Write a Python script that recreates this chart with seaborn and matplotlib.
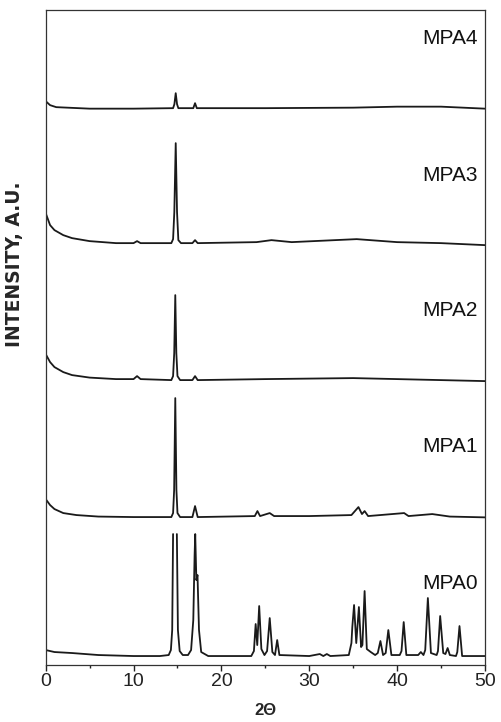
import numpy as np
import pandas as pd
import matplotlib
matplotlib.use('Agg')
import matplotlib.pyplot as plt
from matplotlib.ticker import MultipleLocator
import seaborn as sns

# XRD patterns: (2theta, intensity above own zero, a.u.)
# None marks where the strong MPA0 peak runs off the top of its band
samples = ['MPA0', 'MPA1', 'MPA2', 'MPA3', 'MPA4']

mpa0 = [(0, 15), (1, 13), (3, 12), (6, 10), (10, 9), (13, 9), (14.0, 10), (14.25, 15), (14.4, 35), (14.5, 131),
        (None, None),
        (14.93, 131), (15.05, 35), (15.25, 14), (15.6, 10), (16.2, 10), (16.55, 15), (16.8, 45), (16.95, 110),
        (17.02, 131), (17.15, 85), (17.28, 90), (17.45, 35), (17.7, 13), (18.5, 9), (23.4, 9), (23.7, 14),
        (23.9, 41), (24.08, 20), (24.3, 59), (24.55, 16), (24.9, 10), (25.2, 14), (25.5, 47), (25.8, 13),
        (26.1, 10), (26.35, 25), (26.6, 10), (30, 9), (31.2, 11), (31.6, 9), (32.0, 11), (32.4, 9), (34.5, 10),
        (34.8, 22), (34.9, 38), (35.1, 60), (35.35, 22), (35.65, 58), (35.9, 18), (36.05, 20), (36.3, 74),
        (36.55, 16), (37.0, 13), (37.5, 10), (37.8, 12), (38.1, 24), (38.4, 10), (38.7, 12), (39.0, 35),
        (39.35, 10), (40.3, 10), (40.5, 14), (40.75, 43), (41.05, 10), (42.4, 10), (42.7, 13), (43.0, 10),
        (43.2, 15), (43.5, 67), (43.85, 12), (44.5, 10), (44.65, 14), (44.9, 49), (45.25, 12), (45.5, 11),
        (45.75, 17), (46.0, 10), (46.7, 9), (46.85, 13), (47.1, 39), (47.4, 9), (50, 9)]

mpa1 = [(0, 26), (0.5, 20), (1, 16), (2, 12), (3.5, 10), (6, 8.5), (10, 8), (14.3, 8), (14.5, 12), (14.62, 35),
        (14.75, 127), (14.88, 35), (15.0, 12), (15.3, 8), (16.7, 8), (17.0, 19), (17.3, 8), (23.8, 9), (24.1, 14),
        (24.4, 9), (25.5, 12), (26, 9), (30, 9), (34.8, 10), (35.6, 18), (36.0, 11), (36.3, 14), (36.7, 9),
        (40.8, 12), (41.3, 9), (44, 11), (46, 8.5), (50, 7.7)]

mpa2 = [(0, 34), (0.5, 26), (1, 21), (2, 16), (3, 13), (5, 10.5), (8, 9), (10.0, 9), (10.4, 12), (10.8, 9),
        (14.3, 8), (14.5, 12), (14.63, 35), (14.75, 93), (14.87, 35), (15.0, 12), (15.3, 8), (16.7, 8),
        (17.0, 12), (17.3, 8), (25, 9), (35, 10), (40, 9), (50, 7)]

mpa3 = [(0, 39), (0.5, 27), (1, 22), (2, 17), (3, 14), (5, 11), (8, 9), (10, 9), (10.4, 11), (10.8, 9),
        (14.3, 9), (14.5, 13), (14.64, 40), (14.8, 109), (14.95, 40), (15.1, 12), (15.4, 9), (16.7, 9),
        (17.0, 12), (17.3, 9), (24, 10), (25.7, 12), (28, 10), (35.4, 13), (40, 10), (45, 9), (50, 7)]

mpa4 = [(0, 15), (0.5, 11), (1.2, 9), (5, 7.5), (10, 7.5), (14.5, 8), (14.65, 12), (14.8, 23), (14.95, 12),
        (15.1, 8), (16.8, 8), (17.0, 13), (17.2, 8), (25, 8), (35, 8.5), (40, 9.5), (45, 9.5), (50, 7.5)]

patterns = [mpa0, mpa1, mpa2, mpa3, mpa4]

# stacking offsets and label heights (layout)
offsets = [0, 140, 277, 413, 549]
label_y = [82, 219, 355, 490, 627]

rows = []
for name, pat, off in zip(samples, patterns, offsets):
    seg = 0
    for tt, inten in pat:
        if tt is None:
            seg += 1
            continue
        rows.append({'two_theta': tt, 'intensity': inten + off, 'sample': name, 'seg': f'{name}_{seg}'})
df = pd.DataFrame(rows)

sns.set_style('ticks')
plt.rcParams['font.family'] = ['Liberation Sans', 'DejaVu Sans']

fig = plt.figure(figsize=(5.01, 7.22), dpi=100)
ax = fig.add_axes([0.0912, 0.0789, 0.8768, 0.907])

sns.lineplot(data=df, x='two_theta', y='intensity', units='seg', estimator=None, sort=False,
             color='#1a1a1a', linewidth=1.3, ax=ax, legend=False)

for name, ly in zip(samples, label_y):
    ax.text(49.2, ly, name, ha='right', va='center', fontsize=15, color='#111111')

ax.set_xlim(0, 50)
ax.set_ylim(0, 655)
ax.set_yticks([])
ax.xaxis.set_major_locator(MultipleLocator(10))
ax.xaxis.set_minor_locator(MultipleLocator(5))
ax.tick_params(axis='x', which='major', direction='out', length=4, width=1, labelsize=14, pad=2, colors='#222222')
ax.tick_params(axis='x', which='minor', direction='out', length=2.5, width=1, colors='#222222')
for s in ax.spines.values():
    s.set_visible(True)
    s.set_linewidth(0.9)
    s.set_color('#333333')

ax.set_xlabel('2Θ', fontsize=12, fontweight='bold')
ax.set_ylabel('INTENSITY, A.U.', fontsize=13.5, fontweight='bold', family=['DejaVu Sans'])
ax.yaxis.set_label_coords(-0.05, 0.612)
ax.xaxis.set_label_coords(0.5, -0.058)

plt.savefig('out.png', dpi=100)
